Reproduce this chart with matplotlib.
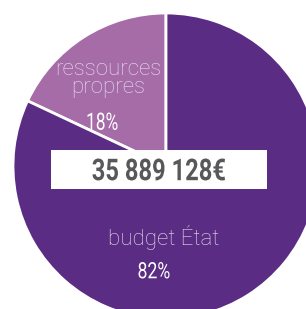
import matplotlib
matplotlib.use('Agg')
import matplotlib.pyplot as plt
from matplotlib.patches import Rectangle, PathPatch
from matplotlib.textpath import TextPath
from matplotlib.font_manager import FontProperties
import matplotlib.transforms as mtransforms

# ================= DATA =================
labels = ['ressources\npropres', 'budget État']
values = [18, 82]
pct_labels = ['18%', '82%']
total_label = '35 889 128€'
COLORS = ['#A66CA8', '#5B2C83']

W, H = 306, 309
fig = plt.figure(figsize=(W / 100, H / 100), dpi=100)
ax = fig.add_axes([0, 0, 1, 1])

# pie centre / radius in pixel coords (y measured from bottom)
cx, cy, r = 166, H - 166, 153
ax.pie(values, colors=COLORS, startangle=90, counterclock=True,
       center=(cx, cy), radius=r,
       wedgeprops=dict(edgecolor='white', linewidth=2))

ax.set_xlim(0, W)
ax.set_ylim(0, H)
ax.set_aspect('equal')
ax.axis('off')


def fit_text(s, box, color, weight='normal', family='Roboto', z=4):
    """Draw s squeezed into box = (x0, x1, ytop, ybottom) in image pixels
    (condensed look, since no condensed font is installed)."""
    x0, x1, yt, yb = box
    tp = TextPath((0, 0), s, size=30,
                  prop=FontProperties(family=family, weight=weight))
    bb = tp.get_extents()
    tr = (mtransforms.Affine2D()
          .translate(-bb.x0, -bb.y0)
          .scale((x1 - x0) / bb.width, (yb - yt) / bb.height)
          .translate(x0, H - yb))
    ax.add_patch(PathPatch(tr.transform_path(tp), facecolor=color,
                           edgecolor='none', zorder=z))


light = '#E8DCEE'
lab_font = dict(color=light, fontsize=16, family=['Roboto', 'DejaVu Sans'],
                fontweight='light', ha='center', va='baseline')

# category labels (baseline = last line)
ax.text(108, H - 93.5, labels[0], linespacing=0.87, multialignment='center',
        **lab_font)
ax.text(164, H - 245, labels[1], **lab_font)

# percentages
fit_text(pct_labels[0], (87.5, 117.5, 112.5, 130), 'white')
fit_text(pct_labels[1], (138.5, 169.5, 262, 278.5), 'white')

# total box
ax.add_patch(Rectangle((51, H - 188.5), 216, 38.5, facecolor='white',
                       edgecolor='none', zorder=3))
fit_text(total_label, (92.5, 225, 158.5, 180.5), '#58585A', weight='bold')

fig.savefig('out.png', dpi=100, facecolor='white')
